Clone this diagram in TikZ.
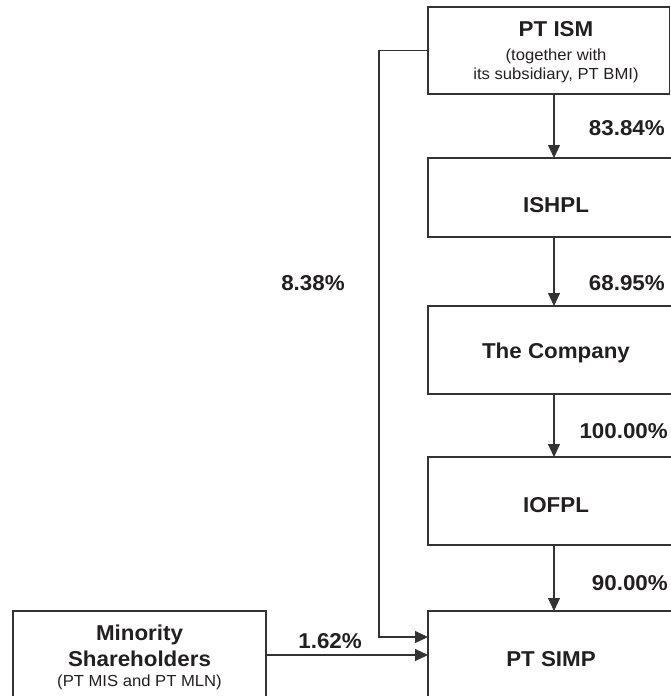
\documentclass[tikz,border=0pt]{standalone}
\usepackage{fontspec}
\setmainfont{Liberation Sans}[FakeStretch=1.04]
\usetikzlibrary{arrows.meta}
\definecolor{ink}{HTML}{231F20}
\definecolor{ln}{HTML}{333333}
\begin{document}
\begin{tikzpicture}[x=1pt,y=-1pt,
  box/.style={draw=ln,line width=1.2pt,rectangle,inner sep=0pt,outer sep=0pt},
  big/.style={text=ink,font=\fontsize{21.5}{25}\selectfont\bfseries,anchor=base,inner sep=0pt},
  small/.style={text=ink,font=\fontsize{16}{19}\selectfont,anchor=base,inner sep=0pt},
  pct/.style={big,anchor=base east},
  arr/.style={draw=ln,line width=1.2pt,-{Triangle[length=13pt,width=12pt]}}]
\useasboundingbox (0,0) rectangle (671,696);
\clip (0,0) rectangle (671,696);
% boxes
\node[box,minimum width=241.5pt,minimum height=87pt] (ism) at (548.75,50.5) {};
\node[box,minimum width=252pt,minimum height=79pt] (ishpl) at (554,197.5) {};
\node[box,minimum width=252pt,minimum height=88pt] (comp) at (554,350) {};
\node[box,minimum width=252pt,minimum height=88pt] (iofpl) at (554,501) {};
\node[box,minimum width=252pt,minimum height=88pt] (simp) at (554,655) {};
\node[box,minimum width=253pt,minimum height=88pt] (minor) at (139.5,655) {};
% box texts
\node[big] (ismt) at (556,36.7) {PT ISM};
\node[small] (ism2) at (556,60) {(together with};
\node[small] (ism3) at (556,79) {its subsidiary, PT BMI)};
\node[big] (ishplt) at (556,212) {ISHPL};
\node[big] (compt) at (556,358) {The Company};
\node[big] (ioft) at (556,512) {IOFPL};
\node[big] (simpt) at (551,666) {PT SIMP};
\node[big] (min1) at (139.5,640) {Minority};
\node[big] (min2) at (139.5,666) {Shareholders};
\node[small] (min3) at (139.5,686) {(PT MIS and PT MLN)};
% percentages
\node[pct] (p1) at (665,135) {83.84\%};
\node[pct] (p2) at (665,290) {68.95\%};
\node[pct] (p3) at (668,438) {100.00\%};
\node[pct] (p4) at (668,590) {90.00\%};
\node[big] (p5) at (313,290) {8.38\%};
\node[pct] (p6) at (362,648) {1.62\%};
% connectors
\draw[arr] (ism.south -| ishpl.north) -- (ishpl.north);
\draw[arr] (ishpl.south) -- (comp.north);
\draw[arr] (comp.south) -- (iofpl.north);
\draw[arr] (iofpl.south) -- (simp.north);
\coordinate (bend) at (379,50.5);
\draw[arr] (ism.west) -- (bend) |- ([yshift=18pt]simp.west);
\draw[arr] (minor.east) -- (simp.west);
\end{tikzpicture}
\end{document}
